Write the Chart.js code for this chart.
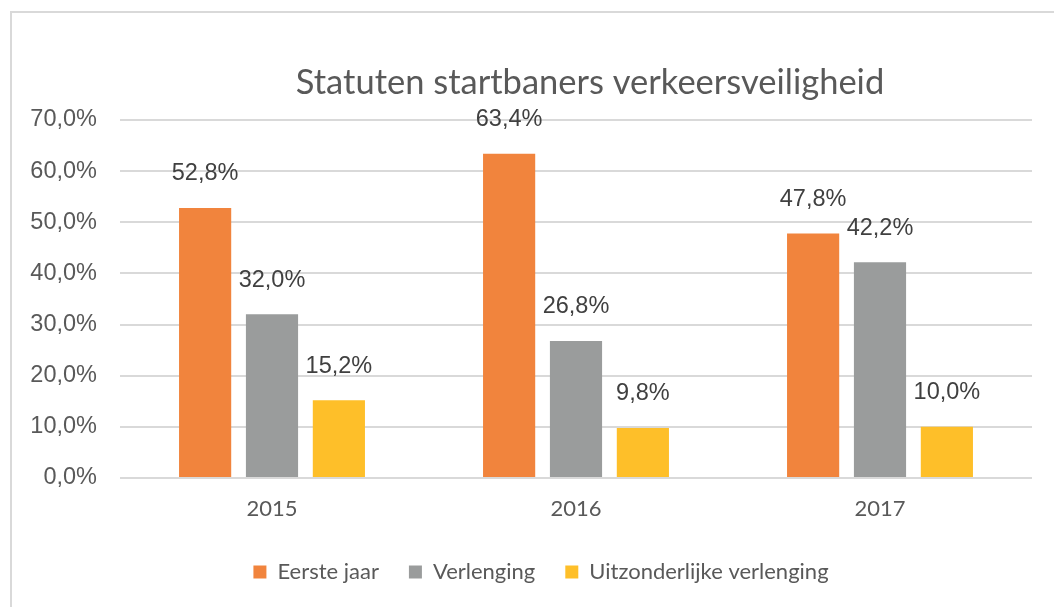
<!DOCTYPE html>
<html>
<head>
<meta charset="utf-8">
<script src="https://cdn.jsdelivr.net/npm/chart.js@4.4.1/dist/chart.umd.min.js"></script>
<style>
  html, body { margin: 0; padding: 0; background: #fff; }
  #chart { display: block; }
</style>
</head>
<body>
<canvas id="chart" width="1054" height="607"></canvas>
<script>
/* ---------- data ---------- */
const years = ["2015", "2016", "2017"];
const eersteJaar = [52.8, 63.4, 47.8];
const verlenging = [32.0, 26.8, 42.2];
const uitzonderlijk = [15.2, 9.8, 10.0];
const yTicks = [0, 10, 20, 30, 40, 50, 60, 70];
const titleText = "Statuten startbaners verkeersveiligheid";

/* ---------- helpers ---------- */
const pct = v => v.toFixed(1).replace(".", ",") + "%";

/* ---------- frame + title ---------- */
const framePlugin = {
    id: "frame",
    afterLayout(chart) {
        // legend sits a bit right of the canvas centre in the original
        chart.legend.left += 12;
        chart.legend.right += 12;
    },
    beforeDraw(chart) {
        const ctx = chart.ctx;
        ctx.save();
        ctx.strokeStyle = "#d9d9d9";
        ctx.lineWidth = 2;
        ctx.beginPath();
        ctx.moveTo(11, 607);
        ctx.lineTo(11, 12);
        ctx.lineTo(1054, 12);
        ctx.stroke();

        ctx.fillStyle = "#595959";
        ctx.font = "34.5px Lato";
        ctx.textAlign = "center";
        ctx.textBaseline = "middle";
        ctx.fillText(titleText, 590, 83);
        ctx.restore();
    }
};

/* ---------- value labels above bars ---------- */
const valueLabels = {
    id: "valueLabels",
    afterDatasetsDraw(chart) {
        const ctx = chart.ctx;
        ctx.save();
        ctx.fillStyle = "#404040";
        ctx.font = "23.5px 'Liberation Sans'";
        ctx.textAlign = "center";
        ctx.textBaseline = "middle";
        chart.data.datasets.forEach((ds, i) => {
            chart.getDatasetMeta(i).data.forEach((bar, j) => {
                ctx.fillText(pct(ds.data[j]), bar.x, bar.y - 34);
            });
        });
        ctx.restore();
    }
};

new Chart(document.getElementById("chart"), {
    type: "bar",
    data: {
        labels: years,
        datasets: [
            { label: "Eerste jaar", data: eersteJaar, backgroundColor: "#f1843d" },
            { label: "Verlenging", data: verlenging, backgroundColor: "#9a9c9c" },
            { label: "Uitzonderlijke verlenging", data: uitzonderlijk, backgroundColor: "#febf29" }
        ]
    },
    options: {
        responsive: false,
        animation: false,
        devicePixelRatio: 1,
        layout: { padding: { top: 120, left: 26, right: 22, bottom: 14 } },
        datasets: { bar: { categoryPercentage: 0.66, barPercentage: 0.78 } },
        plugins: {
            title: { display: false },
            tooltip: { enabled: false },
            legend: {
                position: "bottom",
                labels: {
                    boxWidth: 13,
                    boxHeight: 13,
                    padding: 30,
                    color: "#595959",
                    font: { family: "Lato", size: 22 }
                }
            }
        },
        scales: {
            x: {
                grid: { display: false },
                border: { display: false },
                ticks: {
                    color: "#595959",
                    padding: 10,
                    font: { family: "Lato", size: 22 }
                },
                afterFit(axis) { axis.height = 53; }
            },
            y: {
                min: 0,
                max: 70,
                afterBuildTicks(axis) { axis.ticks = yTicks.map(v => ({ value: v })); },
                grid: { color: "#d9d9d9", lineWidth: 2, drawTicks: false },
                border: { display: false },
                ticks: {
                    color: "#595959",
                    padding: 23,
                    font: { family: "'Liberation Sans'", size: 23.5 },
                    callback: v => pct(v)
                },
                afterFit(axis) { axis.width = 94; }
            }
        }
    },
    plugins: [framePlugin, valueLabels]
});
</script>
</body>
</html>
